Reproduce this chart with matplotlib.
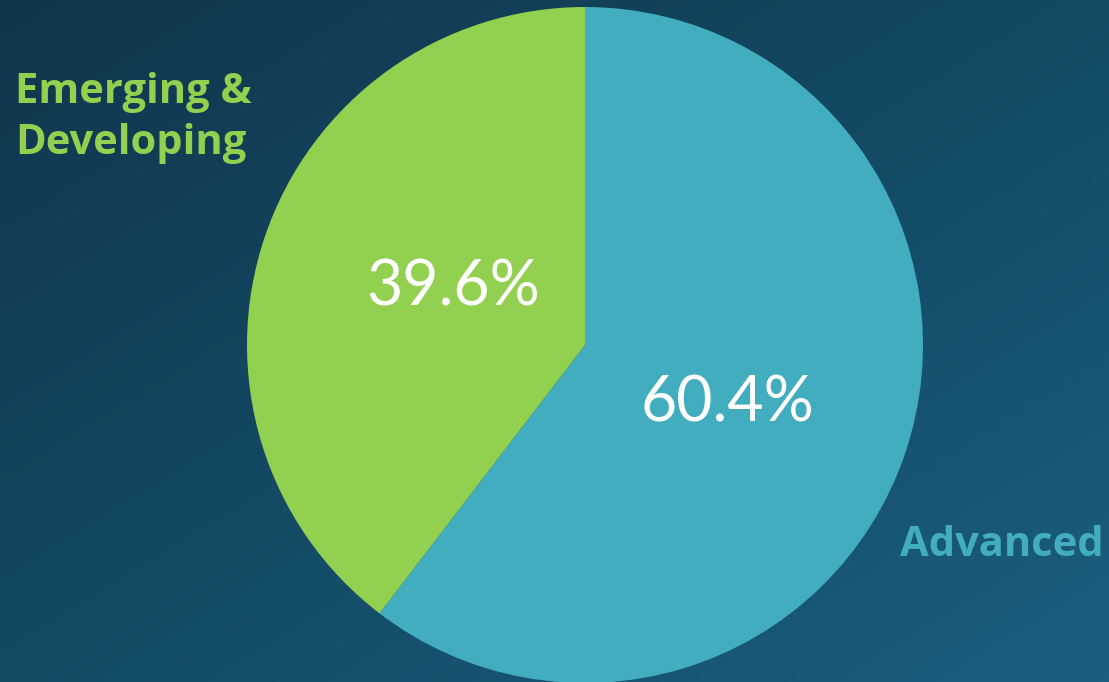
import numpy as np
import matplotlib
matplotlib.use("Agg")
import matplotlib.pyplot as plt
from matplotlib.colors import LinearSegmentedColormap

categories = ["Advanced", "Emerging &\nDeveloping"]
shares = [60.4, 39.6]
colors = ["#41adbe", "#92d050"]

W, H = 1109, 682
fig = plt.figure(figsize=(W / 100, H / 100), dpi=100)
ax = fig.add_axes([0, 0, 1, 1])

# diagonal background gradient (dark top-left -> lighter bottom-right)
yy, xx = np.mgrid[0:1:200j, 0:1:300j]
t = 0.5 * xx + 0.5 * yy
bg = LinearSegmentedColormap.from_list("bg", ["#10364c", "#134a64", "#1b5f7f"])
ax.imshow(t, cmap=bg, extent=[0, W, 0, H], origin="upper", aspect="auto",
          zorder=0)

wedges, _, autotexts = ax.pie(
    shares, colors=colors, startangle=90, counterclock=False,
    center=(585, 337), radius=338, autopct="%.1f%%", pctdistance=0.44,
    wedgeprops=dict(linewidth=0), frame=True,
    textprops=dict(color="white", fontsize=45, family="Lato"))
ax.set_xlim(0, W)
ax.set_ylim(0, H)
ax.set_aspect("equal")
ax.axis("off")
for w in wedges:
    w.set_zorder(2)
for t_, pos in zip(autotexts, [(727, 279), (453, 395)]):
    t_.set_position(pos)
    t_.set_zorder(3)

ax.text(15, 564, categories[1], color=colors[1], fontsize=30,
        fontweight="bold", family="Open Sans", ha="left", va="center",
        linespacing=1.35, zorder=3)
ax.text(1104, 137, categories[0], color=colors[0], fontsize=30,
        fontweight="bold", family="Open Sans", ha="right", va="center",
        zorder=3)

fig.savefig("out.png", dpi=100)
